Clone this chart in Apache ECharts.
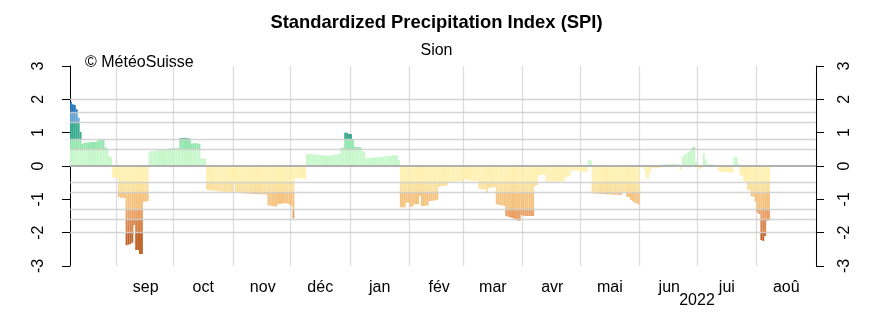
<!DOCTYPE html>
<html><head><meta charset="utf-8">
<script src="https://cdn.jsdelivr.net/npm/echarts@6/dist/echarts.min.js"></script>
<style>html,body{margin:0;padding:0;background:#fff}#c{width:873px;height:325px}</style>
</head><body><div id="c"></div>
<script>
// ---- data ----
const startDate = [2021, 7, 8];   // 8 Aug 2021 (first day of data)
const axisDays = 389;             // axis spans to end of Aug 2022
const firstLabelDate = '2021-09-01';
const spiValues = [
 1.93,1.85,1.83,1.70,1.45,1.02,0.66,0.70,0.70,0.70,0.72,0.72,0.72,0.73,0.76,0.78,0.79,0.79,0.56,0.52,
 0.30,0.26,-0.35,-0.35,-0.35,-0.92,-0.95,-0.95,-0.97,-2.38,-2.36,-2.34,-2.30,-1.77,-2.52,-2.52,-2.64,-2.64,-1.07,-1.07,
 -1.05,0.42,0.45,0.45,0.46,0.46,0.48,0.48,0.49,0.50,0.51,0.52,0.53,0.53,0.53,0.53,0.53,0.83,0.84,0.84,
 0.83,0.83,0.82,0.68,0.68,0.68,0.68,0.66,0.23,0.23,0.23,-0.72,-0.72,-0.73,-0.73,-0.74,-0.75,-0.76,-0.76,-0.77,
 -0.77,-0.78,-0.78,-0.78,-0.78,-0.47,-0.80,-0.81,-0.81,-0.82,-0.82,-0.82,-0.83,-0.83,-0.83,-0.84,-0.84,-0.84,-0.84,-0.85,
 -0.85,-0.85,-0.86,-1.18,-1.19,-1.20,-1.21,-1.22,-1.15,-1.13,-1.13,-1.12,-1.12,-1.13,-1.15,-1.20,-1.57,-0.37,-0.37,-0.37,
 -0.37,-0.38,-0.38,0.35,0.36,0.36,0.35,0.35,0.34,0.34,0.33,0.33,0.32,0.32,0.31,0.31,0.32,0.33,0.34,0.35,
 0.36,0.53,0.55,1.00,1.00,0.96,0.96,0.80,0.58,0.57,0.57,0.56,0.45,0.43,0.23,0.24,0.24,0.25,0.25,0.26,
 0.26,0.27,0.28,0.28,0.29,0.30,0.30,0.31,0.32,0.32,0.32,0.18,-1.24,-1.24,-1.24,-1.10,-1.10,-1.22,-1.22,-1.15,
 -1.15,-1.14,-0.90,-1.20,-1.20,-1.19,-1.18,-1.05,-1.04,-1.04,-1.03,-1.02,-0.62,-0.60,-0.60,-0.59,-0.58,-0.48,-0.47,-0.47,
 -0.47,-0.47,-0.46,-0.46,-0.46,-0.40,-0.40,-0.44,-0.44,-0.44,-0.45,-0.45,-0.45,-0.68,-0.69,-0.70,-0.70,-0.82,-0.65,-0.64,
 -0.64,-0.64,-1.15,-1.16,-1.17,-1.18,-1.20,-1.50,-1.52,-1.54,-1.55,-1.58,-1.60,-1.64,-1.64,-1.47,-1.49,-1.50,-1.50,-1.50,
 -1.50,-1.50,-0.60,-0.57,-0.28,-0.27,-0.26,-0.26,-0.47,-0.47,-0.47,-0.47,-0.47,-0.47,-0.46,-0.46,-0.46,-0.45,-0.33,-0.32,
 -0.30,-0.15,-0.14,-0.13,-0.13,-0.16,-0.17,-0.17,-0.17,-0.17,0.17,0.16,-0.82,-0.82,-0.83,-0.83,-0.84,-0.84,-0.84,-0.85,
 -0.85,-0.85,-0.86,-0.86,-0.86,-0.86,-0.87,-0.87,-0.78,-0.80,-0.92,-0.94,-1.02,-1.06,-1.10,-1.12,-1.15,0,-0.04,-0.10,
 -0.38,-0.36,-0.20,-0.07,-0.07,-0.06,-0.06,-0.06,0.04,0.04,0.05,0.05,0.05,0.06,0.06,0.06,0.05,0.05,-0.12,0.28,
 0.34,0.37,0.42,0.45,0.55,0.57,0.12,-0.08,-0.10,-0.06,0.38,0.20,0.06,0.05,0.05,0.04,0.02,0.01,-0.15,-0.17,
 -0.17,-0.17,-0.18,-0.20,-0.20,-0.20,0.28,0.26,0.08,-0.27,-0.29,-0.45,-0.48,-0.70,-0.74,-0.90,-0.93,-1.07,-1.40,-1.44,
 -2.22,-2.25,-2.10,-1.64,-1.63
];
const monthLabels = ['jan','fév','mar','avr','mai','jun','jui','aoû','sep','oct','nov','déc'];
const yearLabel = '2022';
const yTicks = [-3, -2, -1, 0, 1, 2, 3];
const bandLimits = [0, 0.5, 0.8, 1.3, 1.6, 2, 10];
const refLines = [2, 1.6, 1.3, 0.8, 0.5, -0.5, -0.8, -1.3, -1.6, -2];

// ---- styles ----
const wetColors = ['#c6f7ca', '#93e7ae', '#36ab8d', '#65a5cf', '#2675b8', '#0b4f98'];
const dryColors = ['#fff0b0', '#fbe09c', '#f5c27d', '#eaa062', '#d8844a', '#c0642c'];
const FONT = '"Liberation Sans", Arial, Helvetica, sans-serif';

const dates = [];
const t0 = Date.UTC(startDate[0], startDate[1], startDate[2]);
for (let i = 0; i < axisDays; i++) {
  dates.push(new Date(t0 + i * 86400000).toISOString().slice(0, 10));
}

const series = [];
for (let k = 0; k < 6; k++) {
  const lo = bandLimits[k], hi = bandLimits[k + 1];
  series.push({
    type: 'bar', stack: 'spi', barCategoryGap: '0%', silent: true, z: 2,
    itemStyle: { color: wetColors[k] },
    data: spiValues.map(v => v > lo ? +(Math.min(v, hi) - lo).toFixed(3) : null)
  });
}
for (let k = 0; k < 6; k++) {
  const lo = bandLimits[k], hi = bandLimits[k + 1];
  series.push({
    type: 'bar', stack: 'spi', barCategoryGap: '0%', silent: true, z: 2,
    itemStyle: { color: dryColors[k] },
    data: spiValues.map(v => v < -lo ? -(+(Math.min(-v, hi) - lo).toFixed(3)) : null)
  });
}
series.push({
  type: 'line', data: [], z: 5, silent: true,
  markLine: {
    symbol: 'none', silent: true, animation: false, label: { show: false },
    lineStyle: { color: 'rgba(205,205,205,0.85)', width: 1.3, type: 'solid' },
    data: refLines.map(v => ({ yAxis: v })).concat([{ yAxis: 0, lineStyle: { color: '#b0b0b0', width: 2, type: 'solid' } }])
  }
});

const yAxisBase = (pos, margin) => ({
  type: 'value', position: pos, min: yTicks[0], max: yTicks[yTicks.length - 1], interval: 1,
  axisLine: { show: true, lineStyle: { color: '#000', width: 1 } },
  axisTick: { show: true, length: 8, lineStyle: { color: '#000' } },
  axisLabel: { rotate: 90, fontSize: 16, color: '#000', fontFamily: FONT, margin: margin },
  splitLine: { show: false }
});

const option = {
  animation: false,
  backgroundColor: '#fff',
  title: [
    { text: 'Standardized Precipitation Index (SPI)', left: 'center', top: 9,
      textStyle: { fontFamily: FONT, fontWeight: 'bold', fontSize: 18.4, color: '#000' } },
    { text: 'Sion', left: 'center', top: 38,
      textStyle: { fontFamily: FONT, fontWeight: 'normal', fontSize: 16, color: '#000' } }
  ],
  grid: { left: 70, right: 57, top: 66, bottom: 59, containLabel: false },
  xAxis: {
    type: 'category', data: dates, boundaryGap: true,
    axisLine: { show: false }, axisTick: { show: false },
    axisLabel: {
      interval: (i, v) => v.slice(8) === '16' && v >= firstLabelDate,
      formatter: v => monthLabels[+v.slice(5, 7) - 1],
      fontSize: 16, color: '#000', fontFamily: FONT, margin: 14
    },
    splitLine: { show: true, interval: (i, v) => v.slice(8) === '01',
      lineStyle: { color: '#dddddd', width: 1.3 } }
  },
  yAxis: [yAxisBase('left', 23), yAxisBase('right', 21)],
  graphic: [
    { type: 'text', left: 85, top: 55, style: { text: '© MétéoSuisse', font: '16px ' + FONT, fill: '#000' } },
    { type: 'text', x: 697, y: 301, style: { text: yearLabel, font: '16px ' + FONT, fill: '#000', align: 'center', verticalAlign: 'middle' } }
  ],
  series: series
};
const chart = echarts.init(document.getElementById('c'), null, { renderer: 'canvas' });
chart.setOption(option);
</script></body></html>
